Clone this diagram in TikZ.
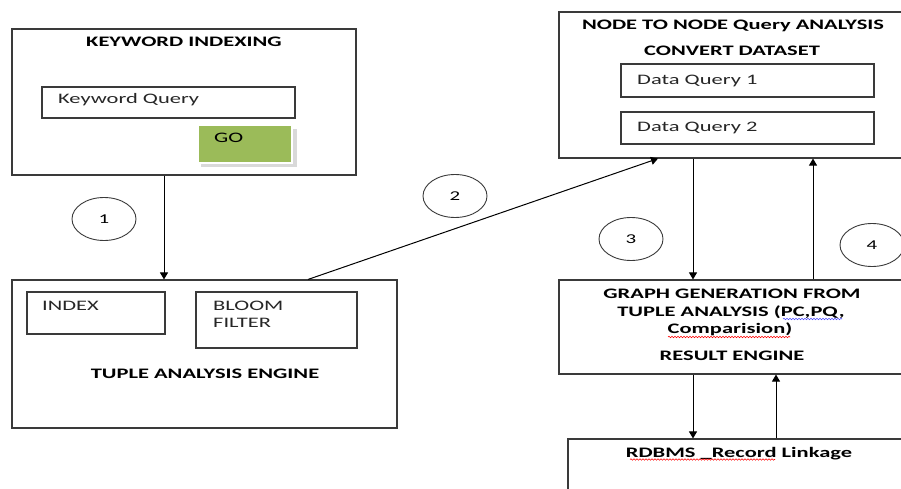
\documentclass[tikz,border=0pt]{standalone}
\usepackage{fontspec}
\setmainfont[FakeStretch=1.55]{Carlito}
\usetikzlibrary{arrows.meta,decorations.pathmorphing,shapes.geometric}
\definecolor{gogreen}{HTML}{9BBB59}
\definecolor{lineclr}{HTML}{3A3A3A}
\begin{document}
\begin{tikzpicture}[x=1pt,y=-1pt,
  box/.style={draw=lineclr,line width=1.1pt,rectangle,inner sep=0pt},
  lbl/.style={font=\fontsize{14.5}{17}\selectfont,inner sep=0pt,text=black!85},
  ttl/.style={font=\fontsize{14.5}{17}\selectfont\bfseries,inner sep=0pt,text=black},
  num/.style={draw=lineclr,line width=0.9pt,ellipse,minimum width=64pt,minimum height=43pt,inner sep=0pt,font=\fontsize{13.5}{15}\selectfont},
  arr/.style={draw=black,line width=1pt,-{Triangle[width=8pt,length=7pt]}},
  wav/.style={decorate,decoration={snake,amplitude=0.7pt,segment length=3pt},line width=0.6pt}]
\useasboundingbox (0,0) rectangle (901,489);
\clip (0,0) rectangle (901,489);

% keyword indexing
\node[box,minimum width=344pt,minimum height=146pt] (kw) at (184,102) {};
\node[ttl,anchor=base] (kwt) at (184,46.5) {KEYWORD INDEXING};
\node[box,minimum width=253pt,minimum height=31pt] (kq) at (168.5,102.5) {};
\node[lbl,anchor=base west] (kqt) at (58,104) {Keyword Query};
\node[rectangle,fill=black!15,minimum width=96pt,minimum height=38pt,inner sep=0pt] (goshadow) at (249,148) {};
\node[rectangle,fill=gogreen,draw=white,line width=2pt,minimum width=94pt,minimum height=38pt,inner sep=0pt] (go) at (245,144) {};
\node[lbl,anchor=base west,text=black] (got) at (214,143) {GO};

% tuple analysis engine
\node[box,minimum width=385pt,minimum height=148pt] (tup) at (204.5,354) {};
\node[box,minimum width=138pt,minimum height=42pt] (idx) at (96,313) {};
\node[lbl,anchor=base west] (idxt) at (42,310.5) {INDEX};
\node[box,minimum width=161pt,minimum height=56pt] (bloom) at (276.5,320) {};
\node[lbl,anchor=base west] (bl1) at (213,310.5) {BLOOM};
\node[lbl,anchor=base west] (bl2) at (213,327.5) {FILTER};
\node[ttl,anchor=base] (tupt) at (205,378.5) {TUPLE ANALYSIS ENGINE};

% node to node
\node[box,minimum width=360pt,minimum height=146pt] (nn) at (739,85) {};
\node[ttl,anchor=base] (nnt1) at (733,29.5) {NODE TO NODE Query ANALYSIS};
\node[ttl,anchor=base] (nnt2) at (732,56) {CONVERT DATASET};
\node[box,minimum width=253pt,minimum height=33pt] (dq1) at (747.5,80.5) {};
\node[lbl,anchor=base west] (dq1t) at (637,84.5) {Data Query 1};
\node[box,minimum width=253pt,minimum height=32pt] (dq2) at (747.5,128) {};
\node[lbl,anchor=base west] (dq2t) at (637,131.5) {Data Query 2};

% graph generation
\node[box,minimum width=360pt,minimum height=94pt] (gg) at (739,327) {};
\node[ttl,anchor=base] (g1) at (732,298.5) {GRAPH GENERATION FROM};
\node[ttl,anchor=base] (g2) at (731,316.5) {TUPLE ANALYSIS (PC,PQ,};
\node[ttl,anchor=base] (g3) at (730,333) {Comparision)};
\node[ttl,anchor=base] (g4) at (732,360) {RESULT ENGINE};

% RDBMS
\node[box,minimum width=350pt,minimum height=80pt] (rd) at (743,479) {};
\node[ttl,anchor=base] (rdt) at (739,457) {RDBMS \_Record Linkage};

% spell-check underlines
\draw[wav,red] (630,459.5) -- (775,459.5);
\draw[wav,red] (668,337) -- (790,337);
\draw[wav,blue!70] (783,319) -- (842,319);

% numbers
\node[num] (n1) at (104,219) {1};
\node[num] (n2) at (455,196) {2};
\node[num] (n3) at (631,239) {3};
\node[num] (n4) at (872,245) {4};

% connectors
\coordinate (x1) at (164,0);
\coordinate (x2a) at (308,0);
\coordinate (x2b) at (658,0);
\coordinate (x3) at (693,0);
\coordinate (x4) at (813,0);
\coordinate (x6) at (776,0);
\draw[arr] (kw.south -| x1) -- (tup.north -| x1);
\draw[arr] (tup.north -| x2a) -- (nn.south -| x2b);
\draw[arr] (nn.south -| x3) -- (gg.north -| x3);
\draw[arr] (gg.north -| x4) -- (nn.south -| x4);
\draw[arr] (gg.south -| x3) -- (rd.north -| x3);
\draw[arr] (rd.north -| x6) -- (gg.south -| x6);
\end{tikzpicture}
\end{document}
